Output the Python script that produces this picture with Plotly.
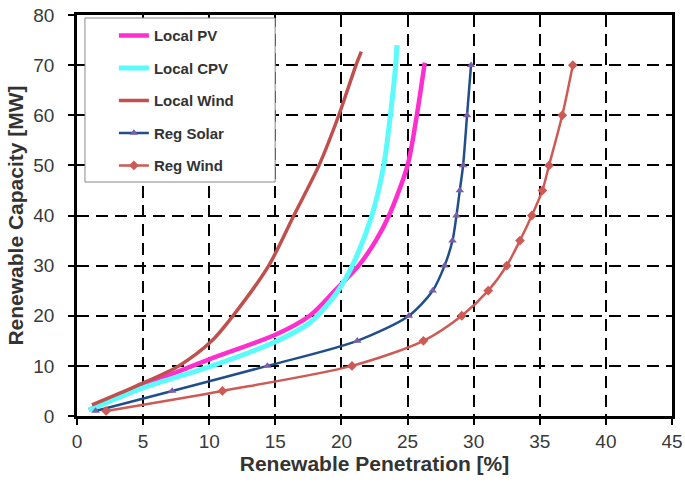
import plotly.graph_objects as go

# Data (x = Renewable Penetration [%], y = Renewable Capacity [MW])
local_pv_x = [0.9, 5.0, 10.0, 15.0, 17.6, 19.5, 21.3, 22.6, 23.6, 25.0, 25.7, 26.3]
local_pv_y = [1.2, 6.0, 11.3, 16.2, 20.0, 25.0, 30.0, 35.0, 40.0, 50.0, 60.0, 70.5]

local_cpv_x = [0.9, 5.0, 10.2, 15.0, 17.7, 19.7, 21.0, 22.3, 23.2, 23.7, 24.1, 24.2]
local_cpv_y = [1.2, 5.6, 10.0, 14.8, 18.8, 24.8, 31.0, 40.0, 50.0, 60.0, 70.0, 74.0]

local_wind_x = [1.13, 4.5, 7.7, 10.2, 11.8, 14.5, 16.4, 18.3, 19.8, 21.1, 21.5]
local_wind_y = [2.2, 6.0, 10.0, 15.0, 20.0, 30.0, 40.0, 50.0, 60.0, 70.0, 72.7]

reg_solar_x = [1.4, 7.2, 14.4, 21.2, 25.1, 26.9, 27.8, 28.4, 28.7, 28.95, 29.2, 29.5, 29.8]
reg_solar_y = [1, 5, 10, 15, 20, 25, 30, 35, 40, 45, 50, 60, 70]

reg_wind_x = [2.2, 11.0, 20.8, 26.2, 29.1, 31.1, 32.5, 33.5, 34.4, 35.2, 35.7, 36.7, 37.5]
reg_wind_y = [1, 5, 10, 15, 20, 25, 30, 35, 40, 45, 50, 60, 70]

x_ticks = [0, 5, 10, 15, 20, 25, 30, 35, 40, 45]
y_ticks = [0, 10, 20, 30, 40, 50, 60, 70, 80]

series = [
    ("Local PV", local_pv_x, local_pv_y, "#FF2ECF", 4.5, None, None),
    ("Local CPV", local_cpv_x, local_cpv_y, "#5CFBFB", 5, None, None),
    ("Local Wind", local_wind_x, local_wind_y, "#C0504D", 3.5, None, None),
    ("Reg Solar", reg_solar_x, reg_solar_y, "#1F4E8A", 2.5, "triangle-up", "#7A5FA8"),
    ("Reg Wind", reg_wind_x, reg_wind_y, "#CD5A55", 2.5, "diamond", "#CD5A55"),
]

fig = go.Figure()
for i, (name, xs, ys, col, w, sym, mcol) in enumerate(series):
    if sym:
        mode = "lines+markers"
        marker = dict(symbol=sym, size=7.5, color=mcol, line=dict(width=0))
    else:
        mode = "lines"
        marker = None
    fig.add_trace(go.Scatter(
        x=xs, y=ys, name=name, mode=mode, legendgroup=name,
        line=dict(color=col, width=w, shape="spline", smoothing=0.8),
        marker=marker,
    ))

axis_font = dict(family="Liberation Sans, Arial", size=19, color="#3a3a3a")
title_font = dict(family="Liberation Sans, Arial", size=21, color="#333333")

fig.update_layout(
    width=685, height=483,
    margin=dict(l=77, r=13, t=15, b=67),
    paper_bgcolor="white", plot_bgcolor="white",
    showlegend=True,
    legend=dict(
        x=0.062, y=0.9895, xanchor="left", yanchor="top",
        bgcolor="rgba(0,0,0,0)", borderwidth=0,
        traceorder="grouped", tracegroupgap=10,
        font=dict(family="Liberation Sans, Arial", size=15, color="#333333", weight="bold"),
    ),
    shapes=[dict(
        type="rect", xref="paper", yref="paper",
        x0=0.0134, x1=0.333, y0=0.5835, y1=0.9925,
        line=dict(color="#888888", width=1), fillcolor="white", layer="above",
    )],
)

fig.update_xaxes(
    range=[0, 45], tickvals=x_ticks, ticktext=[str(v) for v in x_ticks],
    showline=True, linecolor="black", linewidth=2.5, mirror=True,
    ticks="outside", ticklen=6, tickwidth=2, tickcolor="black",
    showgrid=True, gridcolor="black", gridwidth=2, griddash="12px,7px",
    zeroline=False, tickfont=axis_font, automargin=False,
    title=dict(text="<b>Renewable Penetration [%]</b>", font=title_font, standoff=4),
)
fig.update_yaxes(
    range=[0, 80], tickvals=y_ticks, ticktext=[str(v) for v in y_ticks],
    showline=True, linecolor="black", linewidth=2.5, mirror=True,
    ticks="outside", ticklen=6, tickwidth=2, tickcolor="black",
    showgrid=True, gridcolor="black", gridwidth=2, griddash="12px,7px",
    zeroline=False, tickfont=axis_font, automargin=False, ticklabelstandoff=10,
    title=dict(text="<b>Renewable Capacity [MW]</b>", font=title_font, standoff=4),
)

fig.write_html("out.html")
